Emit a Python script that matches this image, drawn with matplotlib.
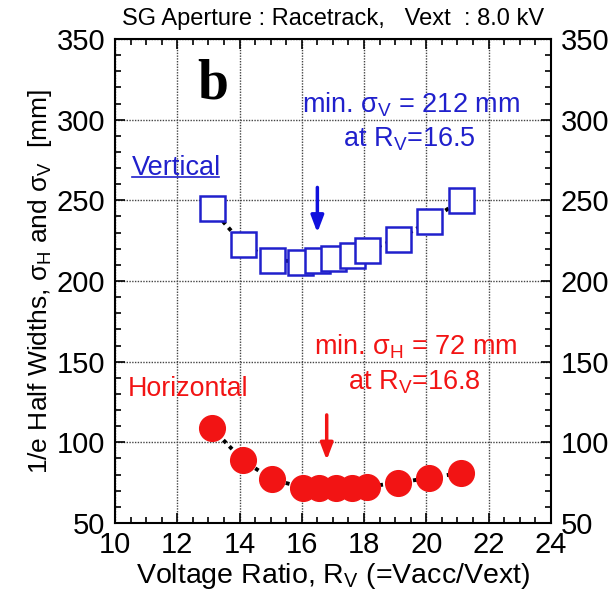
import matplotlib
matplotlib.use("Agg")
import matplotlib.pyplot as plt
from matplotlib.ticker import MultipleLocator

plt.rcParams['font.family'] = ['Liberation Sans', 'DejaVu Sans']
plt.rcParams['mathtext.fontset'] = 'custom'
plt.rcParams['mathtext.rm'] = 'Liberation Sans'
plt.rcParams['mathtext.it'] = 'Liberation Sans'
plt.rcParams['mathtext.bf'] = 'Liberation Sans:bold'

# ---- data ----
ratio_v = [13.1, 14.1, 15.05, 15.95, 16.5, 17.0, 17.6, 18.1, 19.1, 20.1, 21.1]
sigma_v = [245, 223, 213, 212, 213, 214, 216, 219, 226, 237, 250]
ratio_h = [13.1, 14.1, 15.05, 16.05, 16.55, 17.1, 17.6, 18.1, 19.1, 20.1, 21.1]
sigma_h = [109, 89, 77, 72, 72, 72, 72, 72.5, 75, 78, 81]

min_v_ratio, min_v_sigma = 16.5, 212
min_h_ratio, min_h_sigma = 16.8, 72

blue = '#2020cc'
red = '#f21414'

fig = plt.figure(figsize=(6.12, 5.98), dpi=100)
ax = fig.add_axes([0.188, 0.1254, 0.712, 0.8094])

ax.set_xlim(10, 24)
ax.set_ylim(50, 350)
ax.xaxis.set_major_locator(MultipleLocator(2))
ax.xaxis.set_minor_locator(MultipleLocator(0.5))
ax.yaxis.set_major_locator(MultipleLocator(50))
ax.yaxis.set_minor_locator(MultipleLocator(10))

ax.grid(True, which='major', color='#444444', linestyle=(0, (1, 1)), linewidth=1.0)

ax.tick_params(which='both', direction='in', top=True, right=True,
               labelright=True, labelsize=21, width=1.2)
ax.tick_params(axis='y', pad=7)
ax.tick_params(axis='x', pad=6)
ax.tick_params(which='major', length=7)
ax.tick_params(which='minor', length=4)
for s in ax.spines.values():
    s.set_linewidth(1.5)

# connecting dotted lines
ax.plot(ratio_v, sigma_v, color='black', linestyle=(0, (1, 1.2)), linewidth=2.8, zorder=2)
ax.plot(ratio_h, sigma_h, color='black', linestyle=(0, (1, 1.2)), linewidth=2.8, zorder=2)

# markers
ax.plot(ratio_v, sigma_v, linestyle='none', marker='s', markersize=18,
        markerfacecolor='white', markeredgecolor=blue, markeredgewidth=1.8, zorder=3)
ax.plot(ratio_h, sigma_h, linestyle='none', marker='o', markersize=18.5,
        markerfacecolor=red, markeredgecolor=red, zorder=3)

# arrows
ax.annotate('', xy=(min_v_ratio, 230), xytext=(min_v_ratio, 258),
            arrowprops=dict(arrowstyle='-|>,head_width=0.38,head_length=1.0',
                            color='#1010dd', lw=2.5, shrinkA=0, shrinkB=0), zorder=4)
ax.annotate('', xy=(min_h_ratio, 89), xytext=(min_h_ratio, 117),
            arrowprops=dict(arrowstyle='-|>,head_width=0.38,head_length=1.0',
                            color=red, lw=2.5, shrinkA=0, shrinkB=0), zorder=4)

# texts
ax.text(13.15, 322, 'b', fontsize=40, fontweight='bold', family='Liberation Serif',
        ha='center', va='center')
ax.text(19.5, 309, r'min. $\sigma_{\rm V}$ = %d mm' % min_v_sigma, color=blue,
        fontsize=19.5, ha='center', va='center')
ax.text(19.47, 288, r'at R$_{\rm V}$=%.1f' % min_v_ratio, color=blue,
        fontsize=19.5, ha='center', va='center')
ax.text(19.65, 159, r'min. $\sigma_{\rm H}$ = %d mm' % min_h_sigma, color=red,
        fontsize=19.5, ha='center', va='center')
ax.text(19.63, 137, r'at R$_{\rm V}$=%.1f' % min_h_ratio, color=red,
        fontsize=19.5, ha='center', va='center')
ax.text(10.55, 266, 'Vertical', color=blue, fontsize=19.5, ha='left', va='baseline')
ax.plot([10.55, 13.35], [264.3, 264.3], color=blue, linewidth=1.2)
ax.text(10.42, 129, 'Horizontal', color=red, fontsize=19.3, ha='left', va='baseline')

fig.text(0.545, 0.969, 'SG Aperture : Racetrack,   Vext  : 8.0 kV', fontsize=17,
         ha='center', va='center')
ax.set_xlabel(r'Voltage Ratio, R$_{\rm V}$ (=Vacc/Vext)', fontsize=20.5, labelpad=1)
ax.set_ylabel(r'1/e Half Widths, $\sigma_{\rm H}$ and $\sigma_{\rm V}$  [mm]',
              fontsize=19, labelpad=2)

fig.savefig('out.png', dpi=100)
